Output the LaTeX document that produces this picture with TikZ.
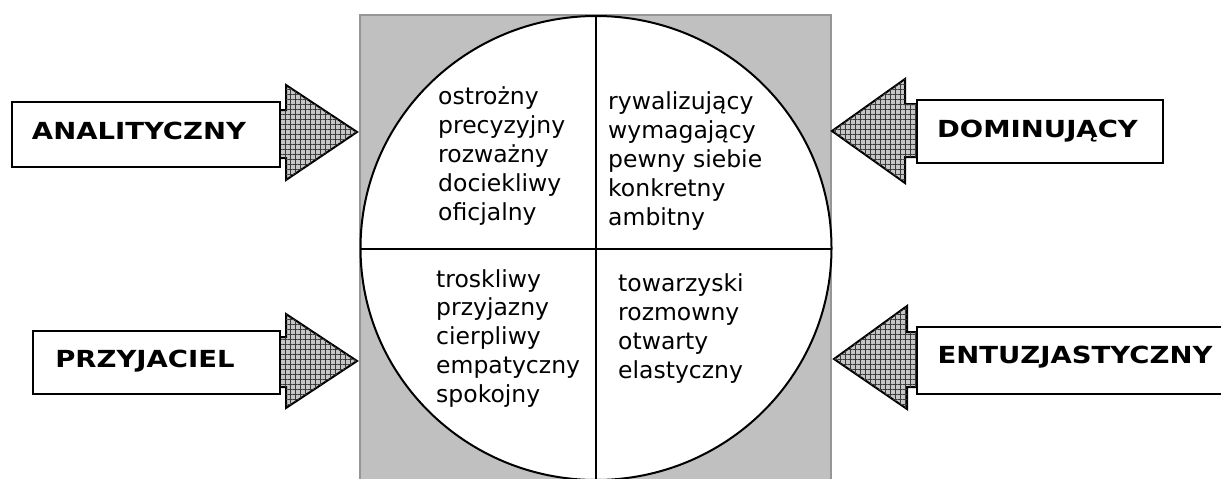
\documentclass[tikz,border=0pt]{standalone}
\usepackage{fontspec}
\setmainfont{DejaVu Sans}
\newfontfamily\lblfont[FakeStretch=1.17]{DejaVu Sans Bold}
\usetikzlibrary{patterns.meta,shapes.geometric}
\begin{document}
\begin{tikzpicture}[x=1pt,y=-1pt,
  labelbox/.style={draw=black,line width=2pt,fill=white},
  labeltext/.style={anchor=base,inner sep=0pt,font=\lblfont\fontsize{23.5}{28}\selectfont},
  arrowbody/.style={draw=black,line width=2pt,fill=gray!45},
  arrowhatch/.style={pattern={Hatch[angle=0,distance=5pt,line width=0.5pt]},pattern color=gray!45!black},
  qtext/.style={anchor=base west,inner sep=0pt,font=\fontsize{23.5}{29}\selectfont}]
\useasboundingbox (0,0) rectangle (1221,479);
\begin{scope}
\clip (0,0) rectangle (1221,479);
% background panel
\fill[fill={rgb,255:red,192;green,192;blue,192},draw={rgb,255:red,150;green,150;blue,150},line width=2pt] (360,15) rectangle (831,490);
% circle
\node[draw=black,line width=2pt,fill=white,ellipse,minimum width=471pt,minimum height=464pt,inner sep=0pt] (circ) at (596,248) {};
\coordinate (ctop) at (596,16);
\coordinate (cbot) at (596,490);
\coordinate (cleft) at (360,249);
\coordinate (cright) at (831,249);
\draw[line width=2pt] (ctop) -- (cbot);
\draw[line width=2pt] (cleft) -- (cright);
\end{scope}

% arrows
\foreach \ya/\yb/\ht/\hb/\tipy in {110/158/85/180/132, 337/387/314/408/361}{
  \path[arrowbody] (270,\ya) -- (286,\ya) -- (286,\ht) -- (357,\tipy) -- (286,\hb) -- (286,\yb) -- (270,\yb) -- cycle;
  \path[arrowhatch] (270,\ya) -- (286,\ya) -- (286,\ht) -- (357,\tipy) -- (286,\hb) -- (286,\yb) -- (270,\yb) -- cycle;
}
\foreach \ya/\yb/\ht/\hb/\tipy/\bx/\tx in {104/157/79/183/131/905/832, 332/387/306/409/359/907/834}{
  \path[arrowbody] (925,\ya) -- (\bx,\ya) -- (\bx,\ht) -- (\tx,\tipy) -- (\bx,\hb) -- (\bx,\yb) -- (925,\yb) -- cycle;
  \path[arrowhatch] (925,\ya) -- (\bx,\ya) -- (\bx,\ht) -- (\tx,\tipy) -- (\bx,\hb) -- (\bx,\yb) -- (925,\yb) -- cycle;
}

% label boxes
\path[labelbox] (12,102) rectangle (280,167);
\node[labeltext] (anal) at (139,139) {ANALITYCZNY};
\path[labelbox] (917,100) rectangle (1163,163);
\node[labeltext] (dom) at (1037.5,137) {DOMINUJĄCY};
\path[labelbox] (33,331) rectangle (280,394);
\node[labeltext] (przy) at (145,367) {PRZYJACIEL};
\path[labelbox] (917,327) rectangle (1230,394);
\node[labeltext] (ent) at (1075,363) {ENTUZJASTYCZNY};

% quadrant texts
\foreach \t [count=\i] in {ostrożny,precyzyjny,rozważny,dociekliwy,oficjalny}
  \node[qtext] (tl\i) at (438,{104+29*(\i-1)}) {\t};
\foreach \t [count=\i] in {rywalizujący,wymagający,pewny siebie,konkretny,ambitny}
  \node[qtext] (tr\i) at (608,{109+29.2*(\i-1)}) {\t};
\foreach \t [count=\i] in {troskliwy,przyjazny,cierpliwy,empatyczny,spokojny}
  \node[qtext] (bl\i) at (436,{287+28.75*(\i-1)}) {\t};
\foreach \t [count=\i] in {towarzyski,rozmowny,otwarty,elastyczny}
  \node[qtext] (br\i) at (618,{291+29*(\i-1)}) {\t};
\end{tikzpicture}
\end{document}
